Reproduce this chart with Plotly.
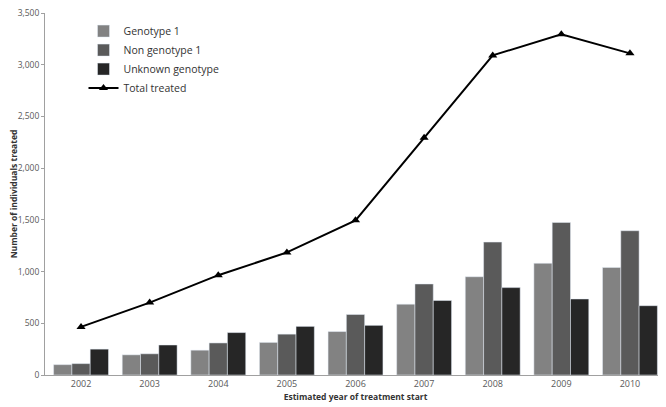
import plotly.graph_objects as go

years = ['2002', '2003', '2004', '2005', '2006', '2007', '2008', '2009', '2010']
genotype1 = [100, 195, 240, 315, 420, 685, 950, 1080, 1040]
non_genotype1 = [110, 205, 310, 395, 585, 880, 1285, 1475, 1395]
unknown = [250, 290, 410, 470, 480, 720, 845, 735, 670]
total = [465, 700, 965, 1185, 1495, 2295, 3090, 3295, 3110]

font = "Open Sans, Liberation Sans, sans-serif"

fig = go.Figure()
fig.add_trace(go.Bar(x=years, y=genotype1, name='Genotype 1', marker_color='#828282'))
fig.add_trace(go.Bar(x=years, y=non_genotype1, name='Non genotype 1', marker_color='#5a5a5a'))
fig.add_trace(go.Bar(x=years, y=unknown, name='Unknown genotype', marker_color='#262626'))
fig.add_trace(go.Scatter(x=years, y=total, name='Total treated', mode='lines+markers',
                         line=dict(color='black', width=2),
                         marker=dict(symbol='triangle-up', size=8, color='black')))

# page body has an 8px margin, so the figure is shrunk to fit the window
fig.update_layout(
    width=658, height=399,
    margin=dict(l=37, r=0, t=5, b=32, autoexpand=False),
    paper_bgcolor='white', plot_bgcolor='white',
    barmode='group', bargap=0.2, bargroupgap=0,
    font=dict(family=font, size=9, color='#595959'),
    legend=dict(x=0.062, y=0.99, xanchor='left', yanchor='top',
                font=dict(size=10.5, color='#333333'), tracegroupgap=1,
                bgcolor='rgba(0,0,0,0)'),
    showlegend=True,
)
fig.update_xaxes(showline=True, linecolor='#a0a0a0', linewidth=1, ticks='',
                 showgrid=False, tickfont=dict(size=9, color='#595959'),
                 title=dict(text='<b>Estimated year of treatment start</b>',
                            font=dict(size=8.5, color='#333333'), standoff=5))
fig.update_yaxes(range=[0, 3500], dtick=500, tickformat=',', showline=True,
                 linecolor='#a0a0a0', linewidth=1, ticks='outside', ticklen=3,
                 tickcolor='#a0a0a0', showgrid=False, zeroline=False,
                 ticklabeloverflow='allow',
                 tickfont=dict(size=8.5, color='#595959'),
                 title=dict(text='<b>Number of individuals treated</b>',
                            font=dict(size=8.5, color='#333333'), standoff=1))

fig.write_html("out.html")
